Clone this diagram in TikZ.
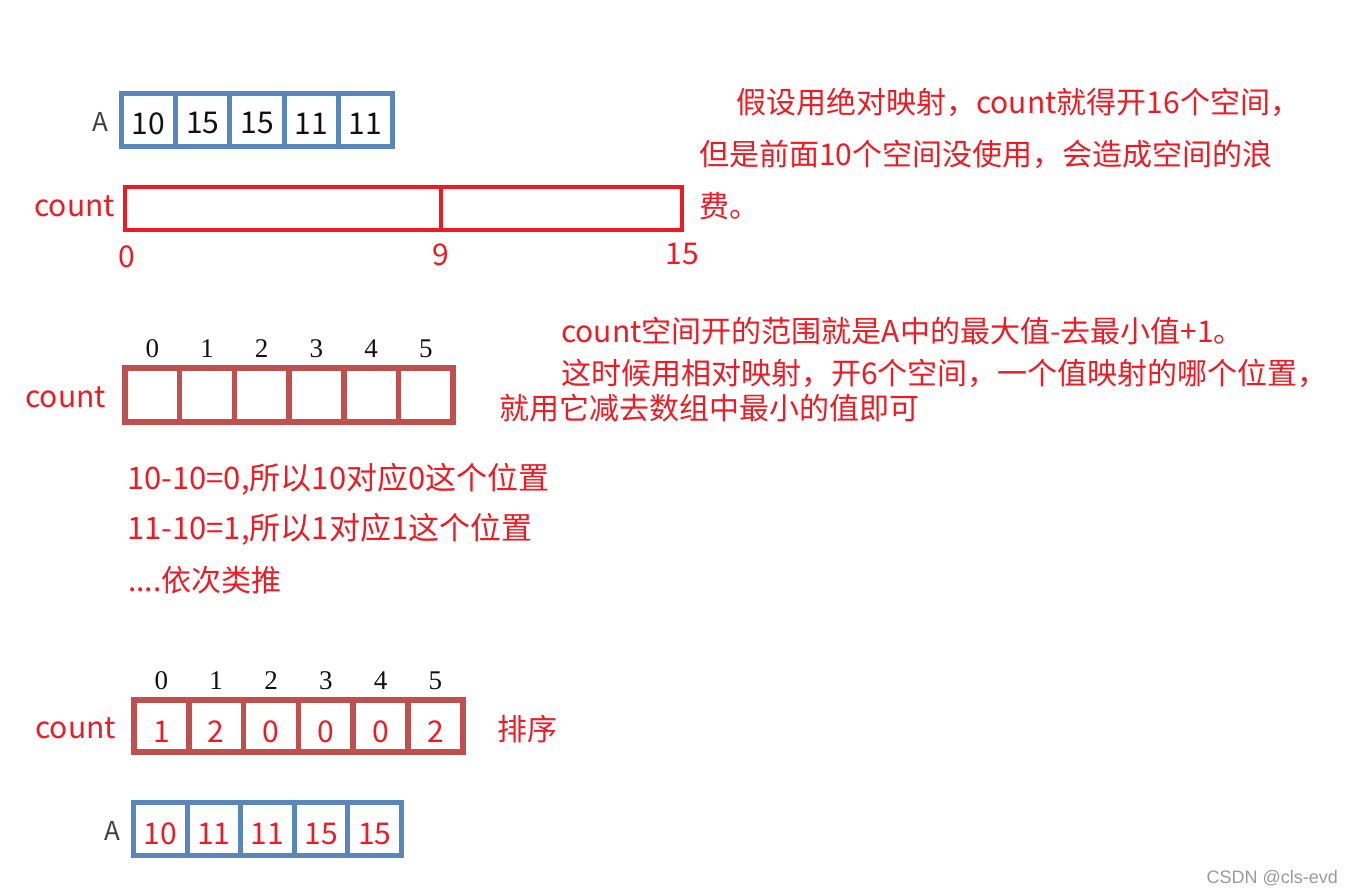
\documentclass[tikz,border=0pt]{standalone}
\usepackage{fontspec}
\setmainfont{Noto Sans CJK SC}
\newfontfamily\idxfont{Liberation Serif}
\newfontfamily\wmfont{Liberation Sans}
\usepackage{tikz}
\usepackage{xcolor}
\definecolor{csRed}{HTML}{ED1C24}
\definecolor{csBlue}{HTML}{5A87BA}
\definecolor{csBrick}{HTML}{C0504D}
\definecolor{csInk}{HTML}{111111}
\definecolor{csGray}{HTML}{404040}
\definecolor{csMark}{HTML}{9A9A9A}

\begin{document}
\begin{tikzpicture}[
      x=1pt, y=-1pt,
      txt/.style={anchor=base west, inner sep=0pt, text=csRed,
                  font=\fontsize{30}{36}\selectfont},
      lbl/.style={anchor=base east, inner sep=0pt, text=csRed,
                  font=\fontsize{30}{36}\selectfont},
      alab/.style={anchor=base, inner sep=0pt, text=csGray,
                  font=\fontsize{26}{30}\selectfont},
      cellA/.style={draw=csBlue, line width=5pt, minimum width=54.2pt,
                  minimum height=53pt, inner sep=0pt},
      cellB/.style={draw=csBlue, line width=5pt, minimum width=53.6pt,
                  minimum height=53pt, inner sep=0pt},
      cellM/.style={draw=csBrick, line width=5.5pt, minimum width=54.7pt,
                  minimum height=54pt, inner sep=0pt},
      cellC/.style={draw=csBrick, line width=5.5pt, minimum width=54.8pt,
                  minimum height=52pt, inner sep=0pt},
      wide/.style={draw=csRed, line width=4.5pt, minimum height=43pt, inner sep=0pt},
      num/.style={inner sep=0pt, font=\fontsize{30}{36}\selectfont},
      idx/.style={anchor=base, inner sep=0pt, text=csInk,
                  font=\idxfont\fontsize{27}{30}\selectfont},
    ]
    \useasboundingbox (0,0) rectangle (1353,893);

    % ---------- A original ----------
    \node[alab] (aA) at (100,132) {A};
    \foreach \v [count=\i] in {10,15,15,11,11}{
      \node[cellA] (a\i) at ({148.6+54.2*(\i-1)},120) {};
      \node[num, text=csInk] (av\i) at ([yshift=-3.5pt]a\i.center) {\v};
    }

    % ---------- count con mapeo absoluto ----------
    \node[lbl] (cW) at (115,217) {count};
    \node[wide, minimum width=316pt] (w1) at (283,208.5) {};
    \node[wide, minimum width=241pt] (w2) at (561.5,208.5) {};
    \node[txt, anchor=base] (w0)  at (127,268) {0};
    \node[txt, anchor=base] (w9)  at (441,266) {9};
    \node[txt, anchor=base] (w15) at (682,265) {15};

    \node[txt] (n1) at (736,114) {假设用绝对映射，count就得开16个空间，};
    \node[txt] (n2) at (699,166) {但是前面10个空间没使用，会造成空间的浪};
    \node[txt] (n3) at (699,218) {费。};

    % ---------- count con mapeo relativo ----------
    \node[lbl] (cM) at (106,407) {count};
    \foreach \i in {1,...,6}{
      \node[cellM] (m\i) at ({152.3+54.7*(\i-1)},395) {};
      \pgfmathtruncatemacro{\k}{\i-1}
      \node[idx] (mi\i) at (m\i.center|-0,358) {\k};
    }

    \node[txt] (r1) at (561,343) {count空间开的范围就是A中的最大值-去最小值+1。};
    \node[txt] (r2) at (561,385) {这时候用相对映射，开6个空间，一个值映射的哪个位置，};
    \node[txt] (r3) at (499,420) {就用它减去数组中最小的值即可};

    \node[txt, font=\fontsize{31}{36}\selectfont] (e1) at (127,489) {10-10=0,所以10对应0这个位置};
    \node[txt, font=\fontsize{31}{36}\selectfont] (e2) at (127,539) {11-10=1,所以1对应1这个位置};
    \node[txt] (e3) at (128,591) {....依次类推};

    % ---------- count final y A ordenado ----------
    \node[lbl] (cC) at (116,738) {count};
    \foreach \v [count=\i] in {1,2,0,0,0,2}{
      \node[cellC] (c\i) at ({161.4+54.8*(\i-1)},726) {};
      \pgfmathtruncatemacro{\k}{\i-1}
      \node[idx] (ci\i) at (c\i.center|-0,689) {\k};
      \node[num, text=csRed] (cv\i) at ([yshift=-6pt]c\i.center) {\v};
    }
    \node[txt] (sort) at (497,740) {排序};

    \node[alab] (bA) at (112,840) {A};
    \foreach \v [count=\i] in {10,11,11,15,15}{
      \node[cellB] (s\i) at ({160.3+53.6*(\i-1)},829) {};
      \node[num, text=csRed] (sv\i) at ([yshift=-5pt]s\i.center) {\v};
    }

    \node[anchor=base east, inner sep=0pt, text=csMark,
          font=\wmfont\fontsize{18}{20}\selectfont] (wm) at (1338,883) {CSDN @cls-evd};

  \end{tikzpicture}
\end{document}
